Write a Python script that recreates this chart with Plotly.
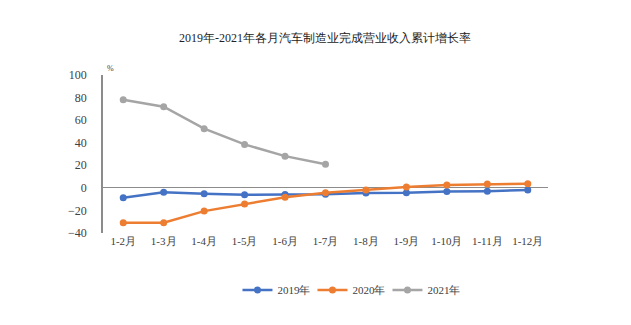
import plotly.graph_objects as go

categories = ["1-2月", "1-3月", "1-4月", "1-5月", "1-6月", "1-7月", "1-8月", "1-9月", "1-10月", "1-11月", "1-12月"]
s2019 = [-8.7, -3.9, -5.3, -6.2, -5.9, -5.6, -4.5, -4.4, -3.3, -2.9, -1.8]
s2020 = [-31.0, -30.9, -20.6, -14.2, -8.3, -4.4, -1.8, 0.7, 2.6, 3.4, 3.6]
s2021 = [78.1, 71.9, 52.4, 38.5, 28.1, 21.0]
y_ticks = [100, 80, 60, 40, 20, 0, -20, -40]

FONT = "Liberation Serif"

fig = go.Figure()
series = [("2019年", s2019, "#4472C4"), ("2020年", s2020, "#ED7D31"), ("2021年", s2021, "#A5A5A5")]
for name, vals, col in series:
    fig.add_trace(go.Scatter(
        x=categories[:len(vals)], y=vals, name=name, mode="lines+markers",
        line=dict(color=col, width=2.5), marker=dict(color=col, size=7),
    ))

fig.update_layout(
    width=631, height=325,
    margin=dict(l=103, r=83, t=75, b=92),
    paper_bgcolor="white", plot_bgcolor="white",
    font=dict(family=FONT, size=11, color="#404040"),
    title=dict(text="2019年-2021年各月汽车制造业完成营业收入累计增长率", x=0.515, xanchor="center",
               y=1 - 38 / 325, yanchor="middle", font=dict(family=FONT, size=12, color="#222222")),
    showlegend=True,
    legend=dict(orientation="h", x=0.555, xanchor="center", y=-0.36, yanchor="middle",
                font=dict(family=FONT, size=11, color="#404040"),
                entrywidth=30, entrywidthmode="pixels"),
    xaxis=dict(type="category", categoryorder="array", categoryarray=categories,
               range=[-0.5, 10.5], showgrid=False, showline=False, ticks="",
               tickfont=dict(family=FONT, size=11, color="#404040")),
    yaxis=dict(range=[-40, 100], tickvals=y_ticks, showgrid=False, showline=True,
               linecolor="#8c8c8c", linewidth=1.5, zeroline=True, zerolinecolor="#8c8c8c",
               zerolinewidth=1.2, ticks="", tickfont=dict(family=FONT, size=12, color="#404040"),
               ticklabelstandoff=12),
)
fig.add_annotation(text="%", xref="paper", yref="paper", x=0.005, y=1.0, xanchor="left",
                   yanchor="bottom", showarrow=False, font=dict(family=FONT, size=8, color="#404040"))
fig.write_html("out.html")
